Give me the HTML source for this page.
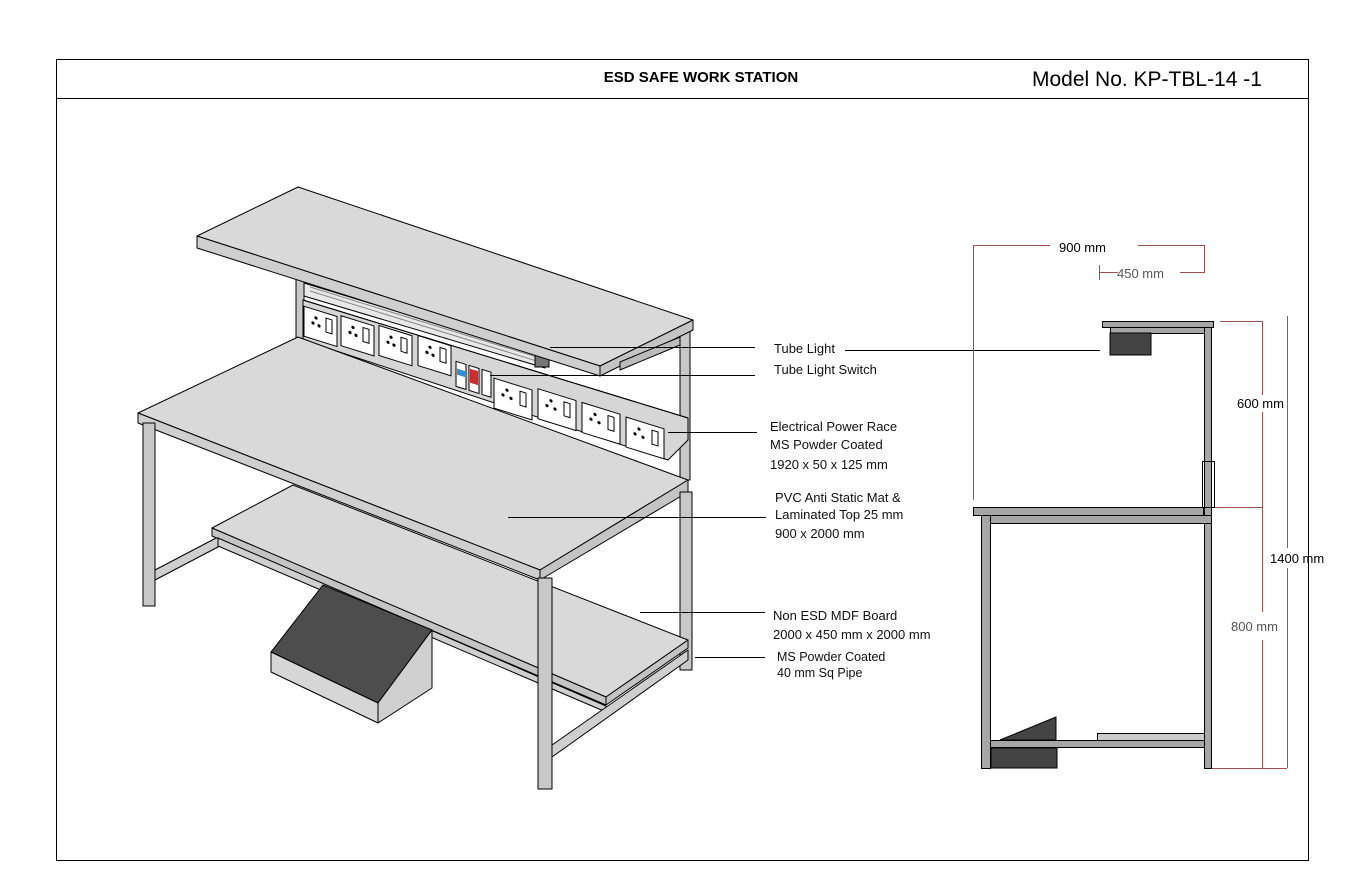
<!DOCTYPE html>
<html><head><meta charset="utf-8"><style>
html,body{margin:0;padding:0;background:#fff;}
svg{display:block;}
text{font-family:"Liberation Sans",sans-serif;}
</style></head><body>
<svg width="1360" height="884" viewBox="0 0 1360 884" xmlns="http://www.w3.org/2000/svg">
<rect x="0" y="0" width="1360" height="884" fill="#fff"/>
<rect x="56.5" y="59.5" width="1252" height="801" fill="none" stroke="#000" stroke-width="1"/>
<line x1="56" y1="98.5" x2="1308" y2="98.5" stroke="#000"/>
<text x="701" y="82" font-size="15" font-weight="bold" text-anchor="middle">ESD SAFE WORK STATION</text>
<text x="1032" y="86" font-size="21">Model No. KP-TBL-14 -1</text>

<g stroke="#000" stroke-width="1" stroke-linejoin="round">
<!-- back uprights upper -->
<rect x="296" y="262" width="8" height="80" fill="#c8c8c8"/>
<rect x="680" y="330" width="10" height="150" fill="#c8c8c8"/>
<!-- tube light -->
<polygon points="304,283 540,355 545,368 304,296" fill="#e8e8e8"/>
<line x1="310" y1="287" x2="540" y2="358" stroke="#888"/>
<line x1="310" y1="291" x2="540" y2="362" stroke="#888"/>
<rect x="535" y="352" width="14" height="15" fill="#777"/>
<!-- power race panel -->
<polygon points="303,300 688,418 688,440 668,460 303,340" fill="#d6d6d6"/>
<line x1="303" y1="300" x2="688" y2="418"/>
<!-- top shelf -->
<polygon points="197,236 298,187 693,320 600,366" fill="#d9d9d9"/>
<polygon points="197,236 600,366 600,376 197,248" fill="#cfcfcf"/>
<polygon points="600,366 693,320 693,330 600,376" fill="#c4c4c4"/>
<polygon points="620,362 680,337 680,345 620,370" fill="#bbb"/>
<!-- worktop -->
<polygon points="138,413 298,337 688,480 540,570" fill="#d9d9d9"/>
<polygon points="138,413 540,570 540,580 138,423" fill="#cfcfcf"/>
<polygon points="540,570 688,480 688,492 540,580" fill="#c4c4c4"/>
<!-- legs -->
<rect x="143" y="423" width="12" height="183" fill="#c8c8c8"/>
<rect x="680" y="492" width="12" height="178" fill="#c8c8c8"/>
<!-- back lower rail -->
<polygon points="155,570 218,537 218,547 155,580" fill="#cfcfcf"/>
<!-- lower shelf -->
<polygon points="212,528 293,485 688,640 606,697" fill="#d9d9d9"/>
<polygon points="212,528 606,697 606,705 212,536" fill="#c4c4c4"/>
<polygon points="218,538 606,706 606,712 218,546" fill="#cfcfcf"/>
<polygon points="606,697 688,640 688,648 606,705" fill="#c4c4c4"/>
<!-- foot rest -->
<polygon points="323,585 432,630 378,703 271,652" fill="#4d4d4d"/>
<polygon points="271,652 378,703 378,723 271,672" fill="#d6d6d6"/>
<polygon points="378,703 432,630 432,688 378,723" fill="#cfcfcf"/>
<!-- front right leg & rail -->
<polygon points="552,745 688,650 688,660 552,757" fill="#cfcfcf"/>
<rect x="538" y="578" width="14" height="211" fill="#c8c8c8"/>
</g>

<!-- sockets -->
<g stroke="#000" stroke-width="1">
<g transform="matrix(1,0.31,0,1,0,0)">
 <g fill="#fff">
  <rect x="304" y="212" width="33" height="30"/>
  <rect x="341" y="210" width="33" height="30"/>
  <rect x="379" y="208" width="33" height="30"/>
  <rect x="418" y="206" width="33" height="30"/>
  <rect x="456" y="220" width="10" height="25"/>
  <rect x="469" y="220" width="10" height="25"/>
  <rect x="482" y="220" width="9" height="25"/>
  <rect x="494" y="225" width="38" height="30"/>
  <rect x="538" y="222" width="38" height="30"/>
  <rect x="582" y="222" width="38" height="30"/>
  <rect x="626" y="223" width="38" height="30"/>
 </g>
 <rect x="457" y="227" width="8" height="6" fill="#2b8fd0" stroke="none"/>
 <rect x="470" y="223" width="8" height="14" fill="#d12b2b" stroke="none"/>
 <g fill="#fff">
  <rect x="326" y="217" width="6" height="14"/><rect x="363" y="215" width="6" height="14"/>
  <rect x="401" y="213" width="6" height="14"/><rect x="440" y="211" width="6" height="14"/>
  <rect x="520" y="230" width="6" height="14"/><rect x="564" y="227" width="6" height="14"/>
  <rect x="608" y="227" width="6" height="14"/><rect x="652" y="228" width="6" height="14"/>
 </g>
 <g fill="#000" stroke="none">
  <circle cx="313" cy="226" r="1.6"/><circle cx="316" cy="220" r="1.6"/><circle cx="319" cy="227" r="1.6"/>
  <circle cx="350" cy="224" r="1.6"/><circle cx="353" cy="218" r="1.6"/><circle cx="356" cy="225" r="1.6"/>
  <circle cx="388" cy="222" r="1.6"/><circle cx="391" cy="216" r="1.6"/><circle cx="394" cy="223" r="1.6"/>
  <circle cx="427" cy="220" r="1.6"/><circle cx="430" cy="214" r="1.6"/><circle cx="433" cy="221" r="1.6"/>
  <circle cx="503" cy="239" r="1.6"/><circle cx="507" cy="233" r="1.6"/><circle cx="511" cy="240" r="1.6"/>
  <circle cx="547" cy="236" r="1.6"/><circle cx="551" cy="230" r="1.6"/><circle cx="555" cy="237" r="1.6"/>
  <circle cx="591" cy="236" r="1.6"/><circle cx="595" cy="230" r="1.6"/><circle cx="599" cy="237" r="1.6"/>
  <circle cx="635" cy="237" r="1.6"/><circle cx="639" cy="231" r="1.6"/><circle cx="643" cy="238" r="1.6"/>
 </g>
</g>
</g>

<!-- leader lines -->
<g stroke="#000" stroke-width="1">
<line x1="550" y1="347.5" x2="755" y2="347.5"/>
<line x1="490" y1="375.5" x2="755" y2="375.5"/>
<line x1="668" y1="432.5" x2="757" y2="432.5"/>
<line x1="508" y1="517.5" x2="766" y2="517.5"/>
<line x1="640" y1="612.5" x2="765" y2="612.5"/>
<line x1="695" y1="657.5" x2="765" y2="657.5"/>
<line x1="845" y1="350.5" x2="1100" y2="350.5"/>
</g>
<g font-size="13" fill="#111">
<text x="774" y="353">Tube Light</text>
<text x="774" y="374">Tube Light Switch</text>
<text x="770" y="431">Electrical Power Race</text>
<text x="770" y="449">MS Powder Coated</text>
<text x="770" y="469">1920 x 50 x 125 mm</text>
<text x="775" y="502">PVC Anti Static Mat &amp;</text>
<text x="775" y="519">Laminated Top 25 mm</text>
<text x="775" y="538">900 x 2000 mm</text>
<text x="773" y="620">Non ESD MDF Board</text>
<text x="773" y="639">2000 x 450 mm x 2000 mm</text>
<text x="777" y="661" font-size="12.5">MS Powder Coated</text>
<text x="777" y="677" font-size="12.5">40 mm Sq Pipe</text>
</g>

<!-- side view -->
<g stroke="#a05050" stroke-width="1" fill="none">
<polyline points="1050,245.5 973.5,245.5 973.5,500"/>
<polyline points="1138,245.5 1204.5,245.5 1204.5,272.5 1180,272.5"/>
<line x1="1100" y1="272.5" x2="1118" y2="272.5"/>
<line x1="1099.5" y1="265" x2="1099.5" y2="280"/>
<line x1="1220" y1="321.5" x2="1262" y2="321.5"/>
<line x1="1213" y1="507.5" x2="1262" y2="507.5"/>
<line x1="1212" y1="768.5" x2="1287" y2="768.5"/>
<line x1="1262.5" y1="321" x2="1262.5" y2="395"/>
<line x1="1262.5" y1="412" x2="1262.5" y2="612"/>
<line x1="1262.5" y1="640" x2="1262.5" y2="768"/>
<line x1="1287.5" y1="316" x2="1287.5" y2="548"/>
<line x1="1287.5" y1="568" x2="1287.5" y2="768"/>
</g>
<g stroke="#000" stroke-width="1">
<rect x="1102.5" y="321.5" width="111" height="6" fill="#a6a6a6"/>
<rect x="1110.5" y="327.5" width="94" height="6" fill="#a6a6a6"/>
<rect x="1110" y="333" width="41" height="22" fill="#444"/>
<rect x="1204.5" y="327.5" width="7" height="441" fill="#a6a6a6"/>
<rect x="1202.5" y="461.5" width="12" height="46" fill="none"/>
<rect x="973.5" y="507.5" width="230" height="8" fill="#a6a6a6"/>
<rect x="981.5" y="515.5" width="230" height="8" fill="#a6a6a6"/>
<rect x="981.5" y="515.5" width="9" height="253" fill="#a6a6a6"/>
<rect x="990.5" y="740.5" width="214" height="7" fill="#a6a6a6"/>
<rect x="1097.5" y="733.5" width="107" height="7" fill="#ccc"/>
<rect x="991" y="748" width="66" height="20" fill="#444"/>
<polygon points="1000,740 1056,717 1056,740" fill="#444"/>
</g>
<g font-size="13">
<text x="1059" y="252">900 mm</text>
<text x="1117" y="278" fill="#555">450 mm</text>
<text x="1237" y="408">600 mm</text>
<text x="1270" y="563">1400 mm</text>
<text x="1231" y="631" fill="#555">800 mm</text>
</g>
</svg>
</body></html>
